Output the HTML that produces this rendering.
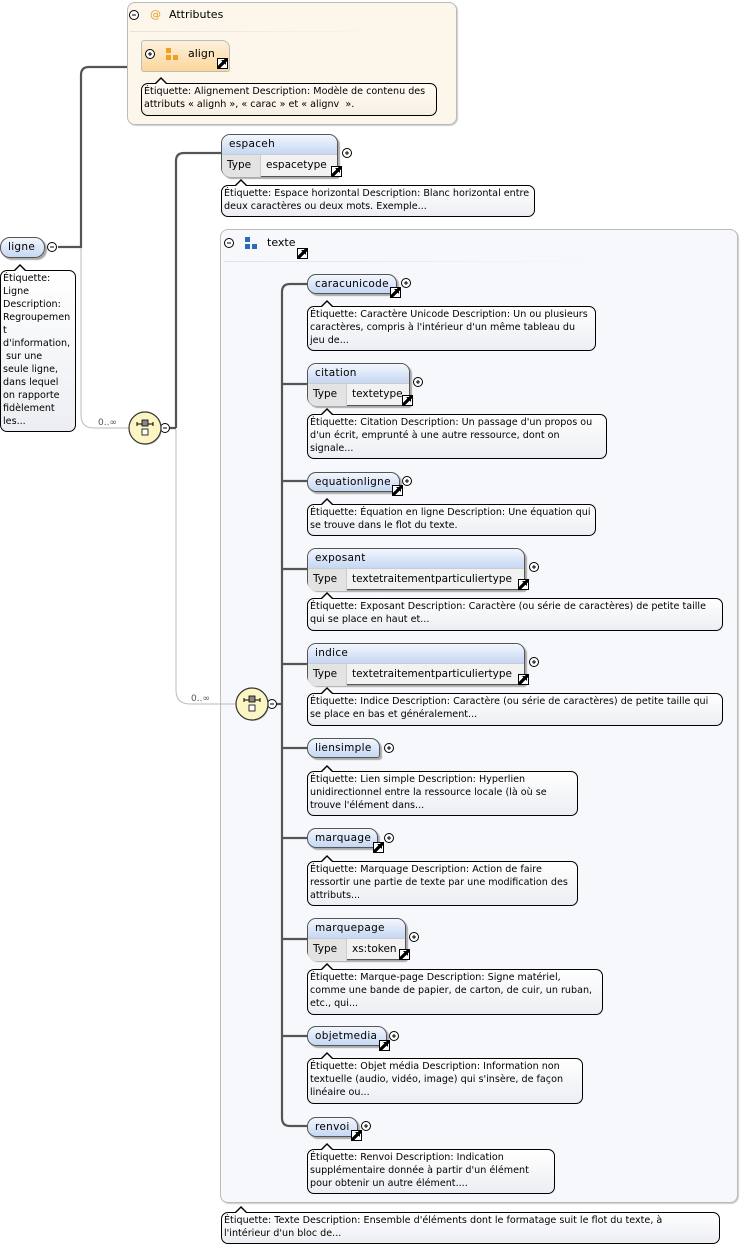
<!DOCTYPE html>
<html><head><meta charset="utf-8">
<style>
body{margin:0;width:755px;height:1248px;background:#fff;position:relative;overflow:hidden;font-family:"DejaVu Sans","Liberation Sans",sans-serif;font-size:10.5px;color:#000}
.a{position:absolute}
.box{position:absolute;border:1px solid #555;border-radius:9px 9px 3px 9px;background:linear-gradient(#f3f7fd,#c5d7f3);box-shadow:2px 2px 1px #aaa;box-sizing:border-box}
.nm{position:absolute;left:7px;top:3px;letter-spacing:0.3px}
.box.t{background:#f2f2f2;overflow:visible}
.box.t .hd{position:absolute;left:0;top:0;right:0;height:19px;border-radius:8px 8px 0 0;background:linear-gradient(#f3f7fd,#c5d7f3);border-bottom:1px solid #ccc}
.box.t .ty{position:absolute;left:0;top:20px;width:38px;height:22px;background:#e3e3e3;border-radius:0 0 0 8px;border-right:1px solid #ccc}
.box.t .tyl{position:absolute;left:5px;top:24px}
.box.t .tyv{position:absolute;left:44px;top:24px}
.arr{position:absolute;width:9px;height:9px;border:1px solid #000;background:#fff}
.arr::after{content:"";position:absolute;left:0;top:0;width:9px;height:9px;background:linear-gradient(135deg,#fff 0 38%,#000 38% 62%,#fff 62%)}
.arr::before{content:"";position:absolute;right:1px;top:1px;width:0;height:0;border-left:5px solid transparent;border-top:5px solid #000;z-index:1}
.ann{position:absolute;border:1px solid #000;border-radius:7px;background:linear-gradient(#fff,#eceef3);font-size:9.6px;line-height:13px;padding:1px 2px;box-sizing:border-box;white-space:nowrap}
.ann::before{content:"";position:absolute;left:12px;top:-7px;width:0;height:0;border-left:7px solid transparent;border-right:7px solid transparent;border-bottom:7px solid #000}
.ann::after{content:"";position:absolute;left:13px;top:-5px;width:0;height:0;border-left:6px solid transparent;border-right:6px solid transparent;border-bottom:6px solid #fff}
</style></head><body>

<div class="a" style="left:127px;top:2px;width:328px;height:121px;border:1px solid #bbb;border-radius:8px;background:#fdf6ea;box-shadow:1px 1px 1px #ccc"></div>
<div class="a" style="left:130px;top:31px;width:260px;height:1px;background:linear-gradient(90deg,#e8e2d6,#fdf6ea)"></div>
<div class="a" style="left:169px;top:8px;font-size:11px">Attributes</div>
<div class="a" style="left:150px;top:8px;color:#e39a2a;font-size:11px">@</div>
<div class="a" style="left:141px;top:40px;width:89px;height:32px;border:1px solid #bbb;border-radius:3px 8px 3px 3px;background:linear-gradient(#fdf0dc,#fbd79a);box-sizing:border-box"></div>
<div class="a" style="left:166px;top:48px;width:5px;height:5px;background:#f0a020"></div>
<div class="a" style="left:166px;top:55px;width:5px;height:5px;background:#f0a020"></div>
<div class="a" style="left:173px;top:55px;width:5px;height:5px;background:#f0a020"></div>
<div class="a" style="left:188px;top:47px;font-size:11px">align</div>
<div class="arr" style="left:217px;top:58px"></div>
<div class="ann" style="left:141px;top:83px;width:296px;height:33px;background:linear-gradient(#fffcf6,#f7efe2)">Étiquette: Alignement Description: Modèle de contenu des<br>attributs « alignh », « carac » et « alignv&nbsp; ».</div>

<div class="a" style="left:220px;top:229px;width:516px;height:972px;border:1px solid #bbb;border-radius:8px;background:#f6f8fc;box-shadow:1px 1px 1px #ccc"></div>
<div class="a" style="left:224px;top:261px;width:380px;height:1px;background:linear-gradient(90deg,#dde2ea,#f6f8fc)"></div>
<div class="a" style="left:245px;top:237px;width:5px;height:5px;background:#2a6ab8"></div>
<div class="a" style="left:245px;top:244px;width:5px;height:5px;background:#2a6ab8"></div>
<div class="a" style="left:252px;top:244px;width:5px;height:5px;background:#2a6ab8"></div>
<div class="a" style="left:267px;top:236px;font-size:11px">texte</div>
<div class="arr" style="left:297px;top:248px"></div>

<svg class="a" style="left:0;top:0" width="755" height="1248">
<g fill="none" stroke="#555" stroke-width="2.2">
<path d="M58 247 H81 V75 Q81 67 89 67 H127"/>
<path d="M170 428 H176 M176 428 V161 Q176 153 184 153 H221"/>
<path d="M277 704 H282"/>
<path d="M307 284 H290 Q282 284 282 292 V1118 Q282 1126 290 1126 H307"/>
<path d="M282 384 H307 M282 481 H307 M282 569 H307 M282 664 H307 M282 748 H307 M282 838 H307 M282 939 H307 M282 1036 H307"/>
</g>
<g fill="none" stroke="#bbb" stroke-width="1">
<path d="M81 248 V415 Q81 428 94 428 H129"/>
<path d="M176 429 V690 Q176 704 190 704 H236"/>
</g>
<g fill="#555" font-size="9" font-family="DejaVu Sans,sans-serif">
<text x="98" y="425">0..∞</text>
<text x="191" y="701">0..∞</text>
</g>
<g stroke="#000" stroke-width="1" fill="#fff">
<circle cx="134" cy="15" r="4.5"/><circle cx="229" cy="243" r="4.5"/><circle cx="150" cy="54" r="4.5"/>
<circle cx="52" cy="247" r="4.5"/><circle cx="165" cy="428" r="4.5"/><circle cx="272" cy="704" r="4.5"/>
<circle cx="347" cy="153" r="4.5"/><circle cx="406" cy="283" r="4.5"/><circle cx="418" cy="382" r="4.5"/>
<circle cx="407" cy="481" r="4.5"/><circle cx="534" cy="567" r="4.5"/><circle cx="534" cy="662" r="4.5"/>
<circle cx="389" cy="748" r="4.5"/><circle cx="389" cy="838" r="4.5"/><circle cx="414" cy="937" r="4.5"/>
<circle cx="394" cy="1036" r="4.5"/><circle cx="366" cy="1126" r="4.5"/>
</g>
<g stroke="#000" stroke-width="1">
<path d="M132 15h4M227 243h4M163 428h4M270 704h4M50 247h4"/>
<path d="M148 54h4M150 52v4M345 153h4M347 151v4M404 283h4M406 281v4M416 382h4M418 380v4M405 481h4M407 479v4M532 567h4M534 565v4M532 662h4M534 660v4M387 748h4M389 746v4M387 838h4M389 836v4M412 937h4M414 935v4M392 1036h4M394 1034v4M364 1126h4M366 1124v4"/>
</g>
<g>
<ellipse cx="146" cy="429" rx="16" ry="16" fill="#999" opacity=".5"/>
<ellipse cx="145" cy="428" rx="16" ry="16" fill="#fbf6c4" stroke="#333" stroke-width="1.2"/>
<path d="M137 424h16M137 422v4M153 422v4" stroke="#000"/>
<rect x="142" y="420" width="6" height="6" fill="#888" stroke="#000" stroke-width=".8"/>
<rect x="142" y="429" width="6" height="6" fill="#fff" stroke="#000" stroke-width=".8"/>
<ellipse cx="253" cy="705" rx="16" ry="16" fill="#999" opacity=".5"/>
<ellipse cx="252" cy="704" rx="16" ry="16" fill="#fbf6c4" stroke="#333" stroke-width="1.2"/>
<path d="M244 700h16M244 698v4M260 698v4" stroke="#000"/>
<rect x="249" y="696" width="6" height="6" fill="#888" stroke="#000" stroke-width=".8"/>
<rect x="249" y="705" width="6" height="6" fill="#fff" stroke="#000" stroke-width=".8"/>
</g>
</svg>

<div class="box" style="left:0;top:237px;width:45px;height:21px;border-radius:10px"><span class="nm">ligne</span></div>
<div class="ann" style="left:0;top:270px;width:76px;height:162px;white-space:normal;font-size:9.6px">Étiquette:<br>Ligne<br>Description:<br>Regroupemen<br>t<br>d'information,<br>&nbsp;sur une<br>seule ligne,<br>dans lequel<br>on rapporte<br>fidèlement<br>les...</div>

<div class="box t" style="left:221px;top:134px;width:117px;height:43px"><div class="hd"></div><div class="ty"></div><span class="nm">espaceh</span><span class="tyl">Type</span><span class="tyv">espacetype</span></div>
<div class="arr" style="left:331px;top:166px"></div>
<div class="ann" style="left:221px;top:185px;width:314px;height:32px">Étiquette: Espace horizontal Description: Blanc horizontal entre<br>deux caractères ou deux mots. Exemple...</div>

<div class="box" style="left:307px;top:274px;width:90px;height:20px"><span class="nm">caracunicode</span></div>
<div class="arr" style="left:390px;top:287px"></div>
<div class="ann" style="left:307px;top:306px;width:289px;height:45px">Étiquette: Caractère Unicode Description: Un ou plusieurs<br>caractères, compris à l'intérieur d'un même tableau du<br>jeu de...</div>

<div class="box t" style="left:307px;top:363px;width:103px;height:43px"><div class="hd"></div><div class="ty"></div><span class="nm">citation</span><span class="tyl">Type</span><span class="tyv">textetype</span></div>
<div class="arr" style="left:402px;top:395px"></div>
<div class="ann" style="left:307px;top:414px;width:300px;height:45px">Étiquette: Citation Description: Un passage d'un propos ou<br>d'un écrit, emprunté à une autre ressource, dont on<br>signale...</div>

<div class="box" style="left:307px;top:472px;width:93px;height:20px"><span class="nm">equationligne</span></div>
<div class="arr" style="left:392px;top:485px"></div>
<div class="ann" style="left:307px;top:504px;width:289px;height:32px">Étiquette: Équation en ligne Description: Une équation qui<br>se trouve dans le flot du texte.</div>

<div class="box t" style="left:307px;top:548px;width:218px;height:42px"><div class="hd"></div><div class="ty"></div><span class="nm">exposant</span><span class="tyl">Type</span><span class="tyv">textetraitementparticuliertype</span></div>
<div class="arr" style="left:518px;top:579px"></div>
<div class="ann" style="left:307px;top:598px;width:416px;height:33px">Étiquette: Exposant Description: Caractère (ou série de caractères) de petite taille<br>qui se place en haut et...</div>

<div class="box t" style="left:307px;top:643px;width:218px;height:42px"><div class="hd"></div><div class="ty"></div><span class="nm">indice</span><span class="tyl">Type</span><span class="tyv">textetraitementparticuliertype</span></div>
<div class="arr" style="left:518px;top:674px"></div>
<div class="ann" style="left:307px;top:693px;width:416px;height:33px">Étiquette: Indice Description: Caractère (ou série de caractères) de petite taille qui<br>se place en bas et généralement...</div>

<div class="box" style="left:307px;top:738px;width:73px;height:20px"><span class="nm">liensimple</span></div>
<div class="ann" style="left:307px;top:771px;width:271px;height:45px">Étiquette: Lien simple Description: Hyperlien<br>unidirectionnel entre la ressource locale (là où se<br>trouve l'élément dans...</div>

<div class="box" style="left:307px;top:828px;width:71px;height:20px"><span class="nm">marquage</span></div>
<div class="arr" style="left:373px;top:842px"></div>
<div class="ann" style="left:307px;top:861px;width:271px;height:45px">Étiquette: Marquage Description: Action de faire<br>ressortir une partie de texte par une modification des<br>attributs...</div>

<div class="box t" style="left:307px;top:918px;width:99px;height:42px"><div class="hd"></div><div class="ty"></div><span class="nm">marquepage</span><span class="tyl">Type</span><span class="tyv">xs:token</span></div>
<div class="arr" style="left:399px;top:949px"></div>
<div class="ann" style="left:307px;top:969px;width:296px;height:46px">Étiquette: Marque-page Description: Signe matériel,<br>comme une bande de papier, de carton, de cuir, un ruban,<br>etc., qui...</div>

<div class="box" style="left:307px;top:1026px;width:80px;height:20px"><span class="nm">objetmedia</span></div>
<div class="arr" style="left:379px;top:1040px"></div>
<div class="ann" style="left:307px;top:1058px;width:276px;height:46px">Étiquette: Objet média Description: Information non<br>textuelle (audio, vidéo, image) qui s'insère, de façon<br>linéaire ou...</div>

<div class="box" style="left:307px;top:1117px;width:51px;height:20px"><span class="nm">renvoi</span></div>
<div class="arr" style="left:351px;top:1130px"></div>
<div class="ann" style="left:307px;top:1149px;width:248px;height:45px">Étiquette: Renvoi Description: Indication<br>supplémentaire donnée à partir d'un élément<br>pour obtenir un autre élément....</div>

<div class="ann" style="left:221px;top:1212px;width:499px;height:32px">Étiquette: Texte Description: Ensemble d'éléments dont le formatage suit le flot du texte, à<br>l'intérieur d'un bloc de...</div>

</body></html>
